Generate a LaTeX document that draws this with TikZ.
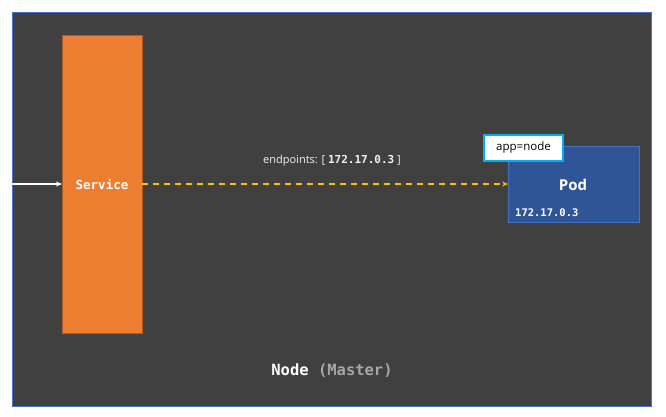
\documentclass[tikz,border=0pt]{standalone}
\usepackage{fontspec}
\setmainfont{Open Sans}
\setmonofont{DejaVu Sans Mono}
\usetikzlibrary{arrows.meta}
\definecolor{bgdark}{HTML}{404040}
\definecolor{frameblue}{HTML}{4472C4}
\definecolor{svcorange}{HTML}{ED7D31}
\definecolor{svcborder}{HTML}{AE5A21}
\definecolor{podblue}{HTML}{2F5597}
\definecolor{dashyellow}{HTML}{FFC000}
\definecolor{labelcyan}{HTML}{00B0F0}
\definecolor{mastergray}{HTML}{A6A6A6}
\definecolor{lighttext}{HTML}{F2F2F2}
\tikzset{
  box/.style={draw, inner sep=0pt, outer sep=0pt, line width=0.8pt},
}
\begin{document}
\begin{tikzpicture}[x=1pt,y=-1pt]
\useasboundingbox (0,0) rectangle (666,416);
\fill[white] (0,0) rectangle (666,416);
% Node frame
\node[box, draw=frameblue, fill=bgdark, minimum width=639pt, minimum height=394pt, anchor=north west, line width=1pt] (frame) at (12,12) {};
% Service
\node[box, draw=svcborder, fill=svcorange, minimum width=80pt, minimum height=298pt, anchor=north west] (svc) at (62,35) {};
\node[text=white, font=\ttfamily\bfseries\fontsize{12.5}{14}\selectfont] (svclabel) at (102,185) {Service};
% Pod
\node[box, draw=frameblue, fill=podblue, minimum width=131pt, minimum height=76pt, anchor=north west] (pod) at (508,146) {};
\node[text=white, font=\bfseries\fontsize{15}{17}\selectfont] (podlabel) at (573,185) {Pod};
\node[text=white, anchor=west, font=\ttfamily\bfseries\fontsize{10.5}{12}\selectfont, inner sep=0pt] (podip) at (515,213) {172.17.0.3};
% app=node label
\node[box, draw=labelcyan, fill=white, line width=2pt, minimum width=79pt, minimum height=26pt, anchor=north west, font=\fontsize{11.5}{13}\selectfont, text=black] (applabel) at (484,135) {app=node};
% incoming arrow
\coordinate (in) at (12,184);
\draw[white, line width=1.2pt, -{Stealth[length=6pt,width=5pt]}] (in) -- (svc.west |- in);
% endpoint dashed arrow
\coordinate (svcout) at (142,184);
\draw[dashyellow, line width=1.5pt, dash pattern=on 6pt off 5pt, -{Stealth[length=6pt,width=5pt]}] (svcout) -- (pod.west |- svcout);
\node[text=lighttext, font=\fontsize{11}{13}\selectfont] (endpoints) at (332,161) {endpoints: [ {\ttfamily\bfseries 172.17.0.3} ]};
% Node (Master)
\node[font=\ttfamily\bfseries\fontsize{15.5}{17}\selectfont] (nodelabel) at (332,371) {\textcolor{white}{Node} \textcolor{mastergray}{(Master)}};
\end{tikzpicture}
\end{document}
